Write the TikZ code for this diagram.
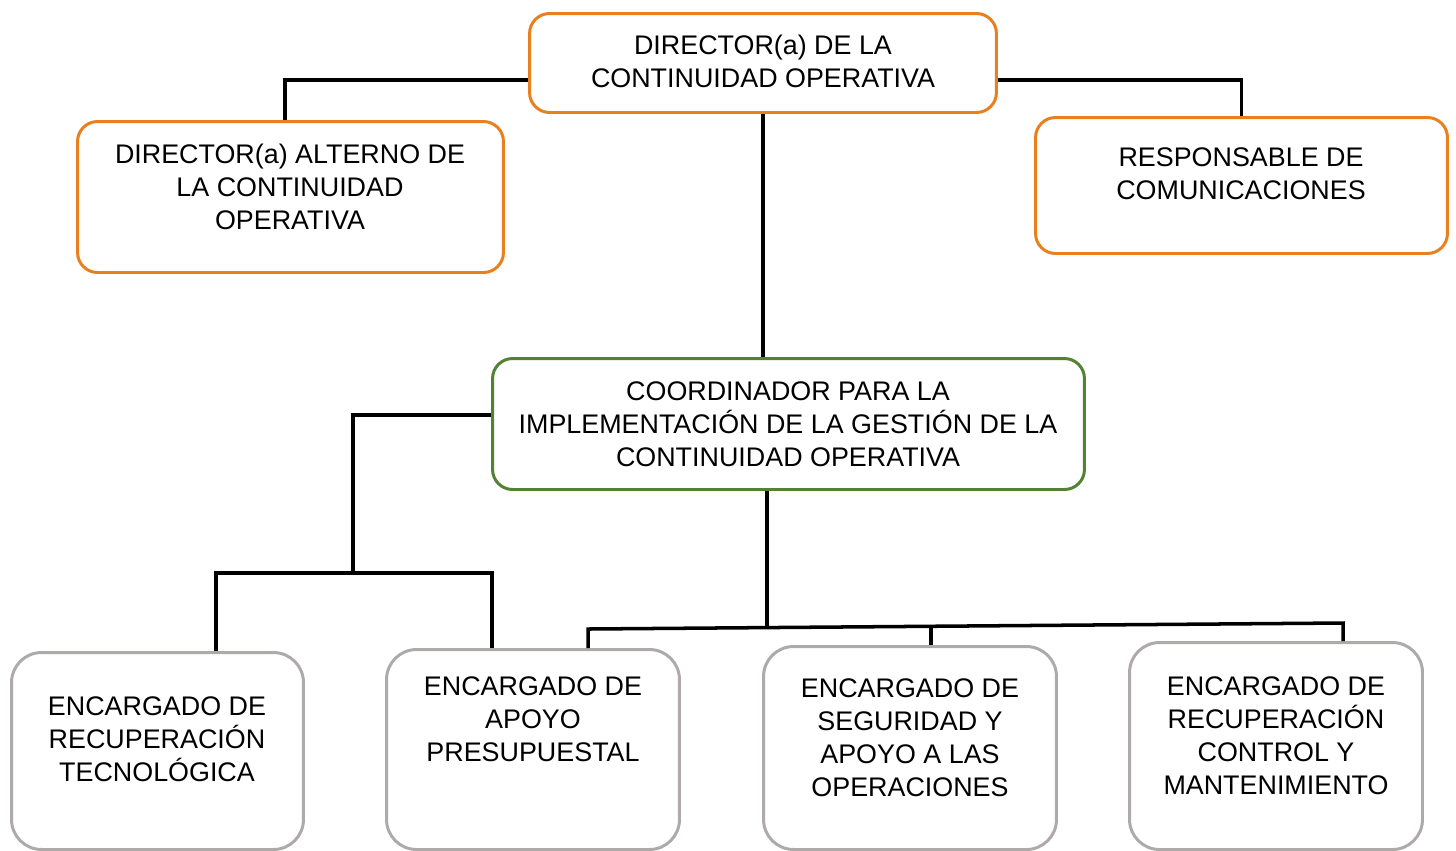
\documentclass[tikz,border=0pt]{standalone}
\usepackage{fontspec}
\setmainfont{Liberation Sans}
\definecolor{naranja}{RGB}{232,128,32}
\definecolor{verde}{RGB}{84,130,53}
\definecolor{gris}{RGB}{174,170,170}

\begin{document}
\begin{tikzpicture}[x=0.02cm,y=-0.02cm,
  caja/.style={draw,line width=1.7pt,fill=white,rounded corners=0.4cm,inner sep=0pt},
  cajagris/.style={caja,draw=gris,rounded corners=0.6cm,minimum width=5.86cm},
  texto/.style={align=center,inner sep=0pt,font=\fontsize{15.3}{18.7}\selectfont},
  linea/.style={line width=2pt}]
\useasboundingbox (0,0) rectangle (1456,850);
% cajas
\node[caja,draw=naranja,minimum width=9.34cm,minimum height=1.98cm] (dir) at (763,63) {};
\node[caja,draw=naranja,minimum width=8.52cm,minimum height=3.02cm] (alt) at (290.5,197) {};
\node[caja,draw=naranja,minimum width=8.24cm,minimum height=2.72cm] (com) at (1241.5,185.5) {};
\node[caja,draw=verde,minimum width=11.84cm,minimum height=2.62cm] (coord) at (788.5,424) {};
\node[cajagris,minimum width=5.84cm,minimum height=3.94cm] (b1) at (157.5,751) {};
\node[cajagris,minimum height=4.0cm] (b2) at (533,749.5) {};
\node[cajagris,minimum height=4.06cm] (b3) at (910,748) {};
\node[cajagris,minimum height=4.14cm] (b4) at (1276,746) {};
% textos
\node[texto] (tdir) at (763,61.5) {DIRECTOR(a) DE LA\\CONTINUIDAD OPERATIVA};
\node[texto] (talt) at (290,187) {DIRECTOR(a) ALTERNO DE\\LA CONTINUIDAD\\OPERATIVA};
\node[texto] (tcom) at (1241,173.5) {RESPONSABLE DE\\COMUNICACIONES};
\node[texto] (tcoord) at (788,424) {COORDINADOR PARA LA\\IMPLEMENTACIÓN DE LA GESTIÓN DE LA\\CONTINUIDAD OPERATIVA};
\node[texto] (tb1) at (157,739) {ENCARGADO DE\\RECUPERACIÓN\\TECNOLÓGICA};
\node[texto] (tb2) at (533,719) {ENCARGADO DE\\APOYO\\PRESUPUESTAL};
\node[texto] (tb3) at (910,738) {ENCARGADO DE\\SEGURIDAD Y\\APOYO A LAS\\OPERACIONES};
\node[texto] (tb4) at (1276,736) {ENCARGADO DE\\RECUPERACIÓN\\CONTROL Y\\MANTENIMIENTO};
% uniones
\coordinate (j1) at (353,573);
\coordinate (j2) at (767,626);
\coordinate (j3) at (931,628);
% conectores
\draw[linea] ([yshift=-0.34cm]dir.west) -| ([xshift=-0.11cm]alt.north);
\draw[linea] ([yshift=-0.34cm]dir.east) -| (com.north);
\draw[linea] (dir.south) -- (dir.south |- coord.north);
\draw[linea] ([yshift=0.18cm]coord.west) -| (j1);
\draw[linea] (216,0 |- b1.north) -- (216,573) -- (492,573) -- (492,0 |- b2.north);
\draw[linea] (j2 |- coord.south) -- (j2);
\draw[linea] (588,0 |- b2.north) -- (588,629) -- (1343,623) -- (1343,0 |- b4.north);
\draw[linea] (j3) -- (j3 |- b3.north);
\end{tikzpicture}
\end{document}
